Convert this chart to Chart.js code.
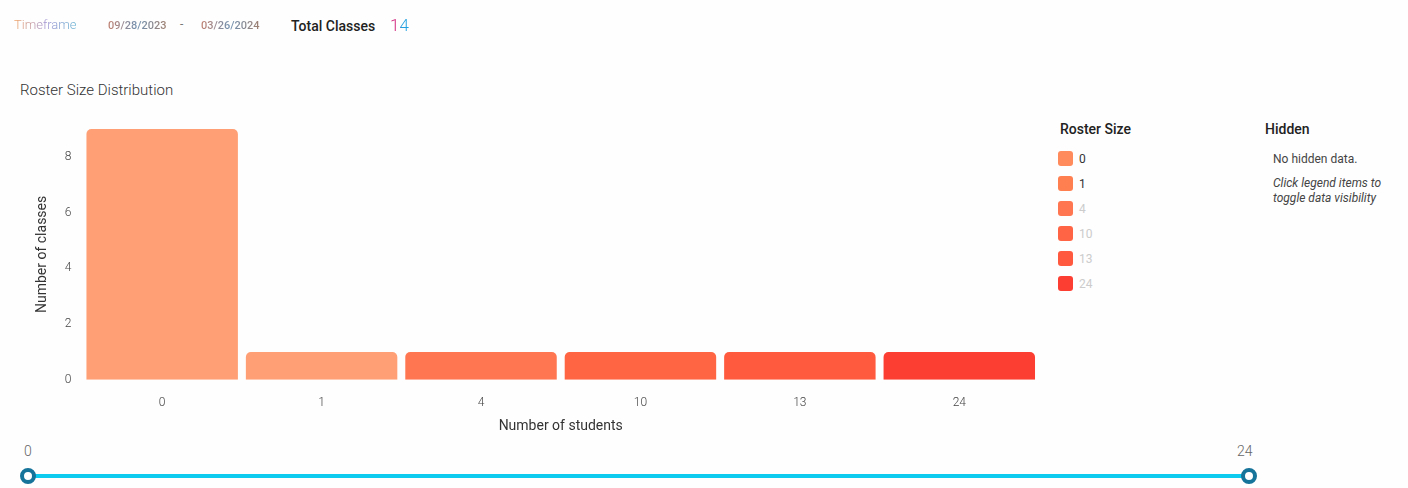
<!DOCTYPE html>
<html>
  <head>
    <script src="https://cdn.jsdelivr.net/npm/chart.js"></script>
    <style>
      body {
        margin: 0;
        font-family: Roboto, sans-serif;
        background: #fefefe;
        width: 1408px;
        height: 488px;
        position: relative;
        overflow: hidden;
      }
      .grad {
        -webkit-background-clip: text;
        background-clip: text;
        color: transparent;
      }
      .header { position: absolute; top: 17px; left: 14px; height: 20px; }
      .header span { position: absolute; white-space: nowrap; top: 0; }
      .tf { left: 0; font-size: 13px; font-weight: 300; background-image: linear-gradient(90deg, #f0a060, #a090d0, #60b0d0); }
      .date { font-size: 11px; font-weight: 500; top: 2px !important; background-image: linear-gradient(90deg, #c08070, #7090b0, #a08070); }
      .dash { left: 166px; font-size: 12px; color: #777; }
      .tc { left: 277px; font-size: 14px; font-weight: 500; color: #222; top: 1px !important; }
      .num { left: 376px; font-size: 17px; font-weight: 300; top: -2px !important; background-image: linear-gradient(90deg, #d0207a 40%, #20a0e0 60%); }
      .title { position: absolute; left: 20px; top: 81px; font-size: 15px; font-weight: 300; color: #333; }
      .chart-box { position: absolute; left: 0; top: 108px; width: 1045px; height: 330px; }
      .legend { position: absolute; left: 1058px; top: 121px; }
      .legend h4, .hidden h4 { margin: 0 0 9px 2px; font-size: 14px; font-weight: 500; color: #222; }
      .item { display: flex; align-items: center; height: 25px; font-size: 12px; }
      .sw { width: 15px; height: 15px; border-radius: 3px; margin-right: 6px; }
      .hidden { position: absolute; left: 1263px; top: 121px; width: 140px; }
      .hidden h4 { margin-bottom: 15px; }
      .hidden p { margin: 0 0 9px 10px; font-size: 12px; color: #444; line-height: 15px; }
      .hidden p.note { font-style: italic; }
      .slider { position: absolute; left: 28px; top: 474px; width: 1221px; height: 4px; background: #0ccbee; }
      .knob { position: absolute; top: -6px; width: 8px; height: 8px; border: 4px solid #16739a; border-radius: 50%; background: #fff; }
      .sl { position: absolute; top: 443px; font-size: 14px; font-weight: 300; color: #666; }
    </style>
  </head>
  <body>
    <div class="header">
      <span class="tf grad">Timeframe</span>
      <span class="date grad" style="left:94px">09/28/2023</span>
      <span class="dash">-</span>
      <span class="date grad" style="left:187px">03/26/2024</span>
      <span class="tc">Total Classes</span>
      <span class="num grad">14</span>
    </div>
    <div class="title">Roster Size Distribution</div>
    <div class="chart-box"><canvas id="rosterChart"></canvas></div>
    <div class="legend" id="legend"><h4>Roster Size</h4></div>
    <div class="hidden">
      <h4>Hidden</h4>
      <p>No hidden data.</p>
      <p class="note">Click legend items to toggle data visibility</p>
    </div>
    <span class="sl" style="left:24px">0</span>
    <span class="sl" style="left:1237px">24</span>
    <div class="slider">
      <div class="knob" style="left:-8px"></div>
      <div class="knob" style="left:1213px"></div>
    </div>

    <script>
      var rosterSizes = ['0', '1', '4', '10', '13', '24'];
      var classCounts = [9, 1, 1, 1, 1, 1];
      var barColors = ['#ff9f75', '#ff9f75', '#ff7650', '#ff6542', '#ff5a3e', '#fc3d31'];
      var legendColors = ['#ff8a5b', '#ff7f50', '#ff7650', '#ff6544', '#ff5a40', '#fc3d31'];
      var legendTextColors = ['#333', '#333', '#ccc', '#ccc', '#ccc', '#ccc'];
      var yTicks = [0, 2, 4, 6, 8];

      var legend = document.getElementById('legend');
      rosterSizes.forEach(function(size, i) {
        var item = document.createElement('div');
        item.className = 'item';
        item.innerHTML = '<div class="sw" style="background:' + legendColors[i] + '"></div>' +
          '<span style="color:' + legendTextColors[i] + '">' + size + '</span>';
        legend.appendChild(item);
      });

      var ctx = document.getElementById('rosterChart').getContext('2d');
      new Chart(ctx, {
        type: 'bar',
        data: {
          labels: rosterSizes,
          datasets: [{
            data: classCounts,
            backgroundColor: barColors,
            borderRadius: { topLeft: 5, topRight: 5 },
            borderSkipped: 'start',
            categoryPercentage: 1,
            barPercentage: 0.95
          }]
        },
        options: {
          responsive: true,
          maintainAspectRatio: false,
          animation: false,
          layout: { padding: { top: 21, right: 6, left: 33 } },
          plugins: { legend: { display: false }, tooltip: { enabled: false } },
          scales: {
            x: {
              grid: { display: false },
              border: { display: false },
              ticks: { color: '#444', font: { family: 'Roboto', size: 12, weight: 300 }, padding: 8 },
              title: { display: true, text: 'Number of students', color: '#333', padding: { top: 0, bottom: 3 },
                       font: { family: 'Roboto', size: 14 } }
            },
            y: {
              min: 0,
              max: 9,
              afterBuildTicks: function(axis) {
                axis.ticks = yTicks.map(function(v) { return { value: v }; });
              },
              grid: { display: false },
              border: { display: false },
              ticks: { color: '#444', font: { family: 'Roboto', size: 12, weight: 300 }, padding: 3 },
              title: { display: true, text: 'Number of classes', color: '#333', padding: { top: 1, bottom: 11 },
                       font: { family: 'Roboto', size: 14 } }
            }
          }
        }
      });
    </script>
  </body>
</html>
